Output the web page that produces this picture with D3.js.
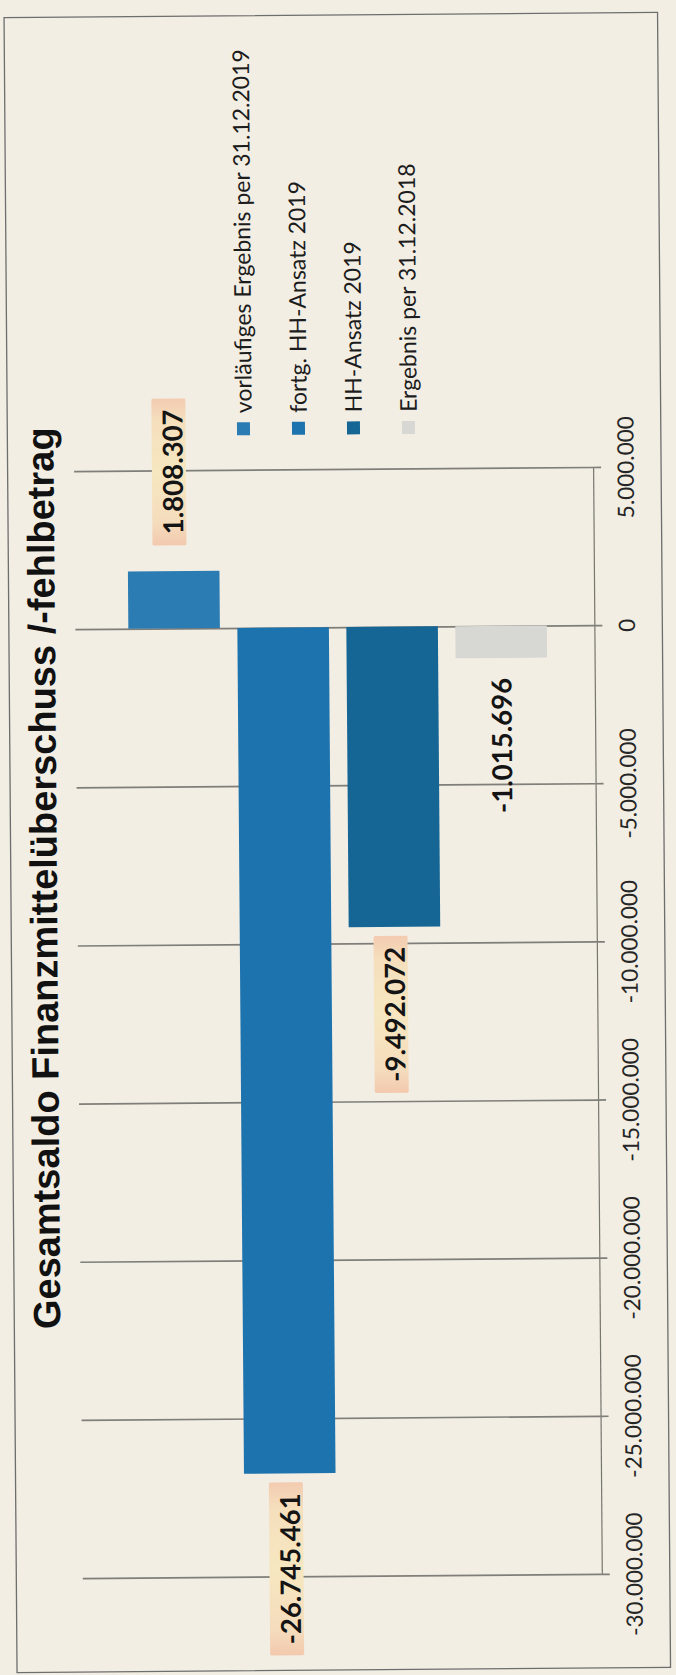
<!DOCTYPE html>
<html>
<head>
<meta charset="utf-8">
<script src="https://cdn.jsdelivr.net/npm/d3@7"></script>
<style>
    html, body { margin: 0; padding: 0; background: #f2eee4; }
    svg { display: block; }
</style>
</head>
<body>
<div id="chart"></div>
<script>
// Data (one bar per series, legend order)
const seriesNames = [
    "vorläufiges Ergebnis per 31.12.2019",
    "fortg. HH-Ansatz 2019",
    "HH-Ansatz 2019",
    "Ergebnis per 31.12.2018"
];
const seriesValues = [1808307, -26745461, -9492072, -1015696];
const seriesColors = ["#2a7cb3", "#1d73ad", "#156695", "#d7d7d4"];
const tickValues = [5000000, 0, -5000000, -10000000, -15000000, -20000000, -25000000, -30000000];
// labels that got a highlighter stroke on the paper
const markedLabels = ["vorläufiges Ergebnis per 31.12.2019", "fortg. HH-Ansatz 2019", "HH-Ansatz 2019"];
const chartTitle = "Gesamtsaldo Finanzmittelüberschuss /-fehlbetrag";

const width = 676, height = 1675;
const tilt = -0.45; // the scan is slightly rotated

const de = d3.formatLocale({ decimal: ",", thousands: ".", grouping: [3], currency: ["", " €"], minus: "-" });
const fmt = de.format(",d");

const svg = d3.select("#chart").append("svg")
    .attr("width", width)
    .attr("height", height);

// highlighter gradient (pinkish ends, pale yellow middle)
const grad = svg.append("defs").append("linearGradient")
    .attr("id", "marker")
    .attr("x1", "0").attr("y1", "0").attr("x2", "1").attr("y2", "0");
[[0, "#f3c9ae"], [0.15, "#f5dcbc"], [0.5, "#f6e7c0"], [0.85, "#f5dfbd"], [1, "#f3cbb0"]].forEach(s => {
    grad.append("stop").attr("offset", s[0]).attr("stop-color", s[1]);
});

svg.append("rect")
    .attr("width", width)
    .attr("height", height)
    .attr("fill", "#f2eee4");

const g = svg.append("g")
    .attr("transform", `rotate(${tilt}, ${width / 2}, 837)`);

// outer frame of the chart area
g.append("rect")
    .attr("x", 10.5)
    .attr("y", 15)
    .attr("width", 653.5)
    .attr("height", 1655)
    .attr("fill", "none")
    .attr("stroke", "#6e6e6e")
    .attr("stroke-width", 1.3);

// scales - value axis runs down the page, series spread across it
const y = d3.scaleLinear()
    .domain([-30000000, 5000000])
    .range([1576, 469]);

const x = d3.scaleBand()
    .domain(seriesNames)
    .range([130, 548.5])
    .paddingInner(0.16)
    .paddingOuter(0);

const axisX = 596, gridLeft = 77;

// gridlines
g.append("g")
    .attr("transform", `translate(${axisX},0)`)
    .call(d3.axisLeft(y).tickValues(tickValues).tickSize(axisX - gridLeft).tickFormat(""))
    .call(a => a.select(".domain").remove())
    .call(a => a.selectAll("line").attr("stroke", "#7f7e79").attr("stroke-width", 1.7));

// value axis with tick marks and rotated labels
g.append("g")
    .attr("transform", `translate(${axisX},0)`)
    .call(d3.axisRight(y).tickValues(tickValues).tickSizeInner(8).tickSizeOuter(0).tickFormat(fmt))
    .call(a => a.select(".domain").attr("stroke", "#77766f").attr("stroke-width", 1.2))
    .call(a => a.selectAll("line").attr("stroke", "#7f7e79").attr("stroke-width", 1.7))
    .call(a => a.selectAll("text")
        .attr("x", null)
        .attr("dy", "0.36em")
        .attr("transform", "translate(32.5,0) rotate(-90)")
        .attr("text-anchor", "middle")
        .attr("fill", "#262626")
        .style("font-family", "Lato, 'Open Sans', sans-serif")
        .style("font-size", "22.5px"));

// bars
g.append("g")
    .selectAll("rect")
    .data(seriesNames)
    .join("rect")
    .attr("x", d => x(d))
    .attr("width", x.bandwidth())
    .attr("y", (d, i) => y(Math.max(0, seriesValues[i])))
    .attr("height", (d, i) => Math.abs(y(seriesValues[i]) - y(0)))
    .attr("fill", (d, i) => seriesColors[i]);

// data labels, outside end, rotated like the rest of the page
const gapPos = 37, gapNeg = 20;
const labels = g.append("g")
    .selectAll("g")
    .data(seriesNames)
    .join("g")
    .attr("transform", (d, i) => {
        const v = seriesValues[i];
        const yy = v >= 0 ? y(v) - gapPos : y(v) + gapNeg;
        return `translate(${x(d) + x.bandwidth() / 2},${yy}) rotate(-90)`;
    });

labels.append("text")
    .attr("text-anchor", (d, i) => seriesValues[i] >= 0 ? "start" : "end")
    .attr("dy", "0.36em")
    .attr("fill", "#141414")
    .style("font-family", "Lato, 'Open Sans', sans-serif")
    .style("font-weight", "bold")
    .style("font-size", "27.5px")
    .text((d, i) => fmt(seriesValues[i]));

labels.each(function(d, i) {
    if (!markedLabels.includes(d)) return;
    const grp = d3.select(this);
    const len = grp.select("text").node().getComputedTextLength();
    const pos = seriesValues[i] >= 0;
    grp.insert("rect", "text")
        .attr("x", pos ? -11 : -len - 11)
        .attr("y", -21)
        .attr("width", len + 22)
        .attr("height", 34)
        .attr("rx", 1.5)
        .attr("fill", "url(#marker)");
});

// legend
const legend = g.append("g")
    .selectAll("g")
    .data(seriesNames)
    .join("g")
    .attr("transform", (d, i) => `translate(${246.7 + i * 55},428) rotate(-90)`);

legend.append("rect")
    .attr("x", -6.5)
    .attr("y", -6.5)
    .attr("width", 13)
    .attr("height", 13)
    .attr("fill", (d, i) => seriesColors[i]);

legend.append("text")
    .attr("x", 15.5)
    .attr("dy", "0.36em")
    .attr("fill", "#1c1c1c")
    .style("font-family", "Lato, 'Open Sans', sans-serif")
    .style("font-size", "23px")
    .text(d => d);

// title
g.append("text")
    .attr("transform", "translate(56.5,876) rotate(-90)")
    .attr("text-anchor", "middle")
    .attr("fill", "#111")
    .style("font-family", "'Liberation Sans', Arial, sans-serif")
    .style("font-weight", "bold")
    .style("font-size", "38px")
    .text(chartTitle);
</script>
</body>
</html>
